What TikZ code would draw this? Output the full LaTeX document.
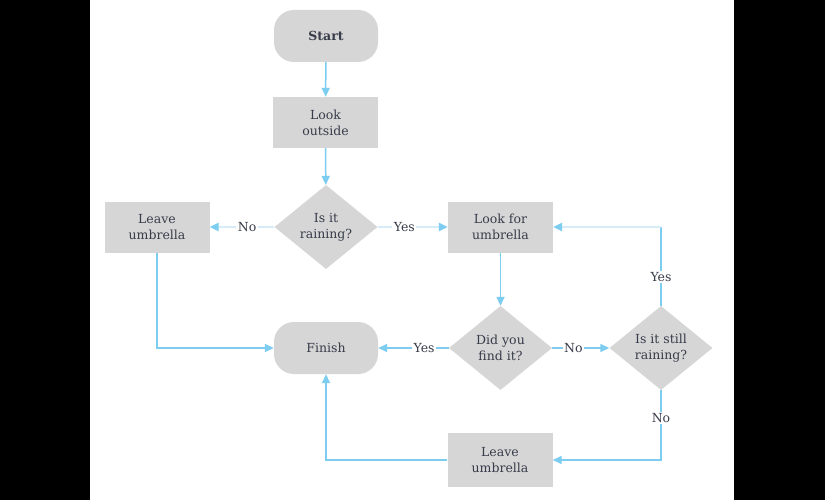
\documentclass[tikz,border=0pt]{standalone}
\usepackage{fontspec}
\setmainfont{DejaVu Serif}
\usetikzlibrary{shapes.geometric,arrows.meta}
\definecolor{nodefill}{RGB}{214,214,214}
\definecolor{txt}{RGB}{55,60,74}
\definecolor{skyb}{RGB}{125,205,240}
\definecolor{palesky}{RGB}{214,236,248}
\tikzset{
  every node/.style={font=\fontsize{12.5}{16}\selectfont, text=txt},
  term/.style={fill=nodefill, rounded corners=20pt, minimum width=104pt, minimum height=52pt, inner sep=0pt, align=center},
  proc/.style={fill=nodefill, minimum width=105pt, minimum height=51pt, inner sep=0pt, align=center},
  decis/.style={diamond, fill=nodefill, minimum width=103pt, minimum height=84pt, inner sep=0pt, align=center},
  conn/.style={draw=skyb, line width=1.5pt, -{Triangle[length=9pt,width=8pt,fill=skyb,color=skyb]}},
  paleconn/.style={draw=palesky, line width=2.5pt, -{Triangle[length=9pt,width=8pt,fill=skyb,color=skyb]}},
  lbl/.style={fill=white, inner sep=1.5pt},
}
\begin{document}
\begin{tikzpicture}[x=1pt,y=-1pt]
\useasboundingbox (0,0) rectangle (825,500);
\fill[white] (0,0) rectangle (825,500);
\fill[black] (0,0) rectangle (90,500);
\fill[black] (734,0) rectangle (825,500);

\node[term] (start) at (326,36) {\bfseries Start};
\node[proc] (look) at (325.5,122.5) {Look\\outside};
\node[decis] (rain) at (326,227) {Is it\\raining?};
\node[proc] (leave1) at (157,227) {Leave\\umbrella};
\node[proc] (lookfor) at (500.5,227) {Look for\\umbrella};
\node[term] (finish) at (326,348) {Finish};
\node[decis] (did) at (500.5,348) {Did you\\find it?};
\node[decis] (still) at (661,348) {Is it still\\raining?};
\node[proc, minimum height=54pt] (leave2) at (500,460) {Leave\\umbrella};

\coordinate (ytop) at (661,227);
\coordinate (ybot) at (661,460);
\coordinate (lcorner) at (157,348);
\coordinate (bcorner) at (326,460);

\draw[conn] (start) -- (look);
\draw[conn] (look) -- (rain);
\draw[paleconn] (rain) -- node[lbl, pos=0.38] (yes1) {Yes} (lookfor);
\draw[paleconn] (rain) -- node[lbl, pos=0.42] (no1) {No} (leave1);
\draw[conn] (lookfor) -- (did);
\draw[conn] (did) -- node[lbl, pos=0.35] (yes2) {Yes} (finish);
\draw[conn] (did) -- node[lbl, pos=0.37] (no2) {No} (still);
\draw[draw=skyb, line width=1.5pt] (still.north) -- node[lbl, pos=0.37] (yes3) {Yes} (ytop);
\draw[paleconn] (ytop) -- (lookfor.east);
\draw[conn] (still.south) -- node[lbl, pos=0.4] (no3) {No} (ybot) -- (leave2.east);
\draw[conn] (leave1.south) -- (lcorner) -- (finish.west);
\draw[conn] (leave2.west) -- (bcorner) -- (finish.south);
\end{tikzpicture}
\end{document}
